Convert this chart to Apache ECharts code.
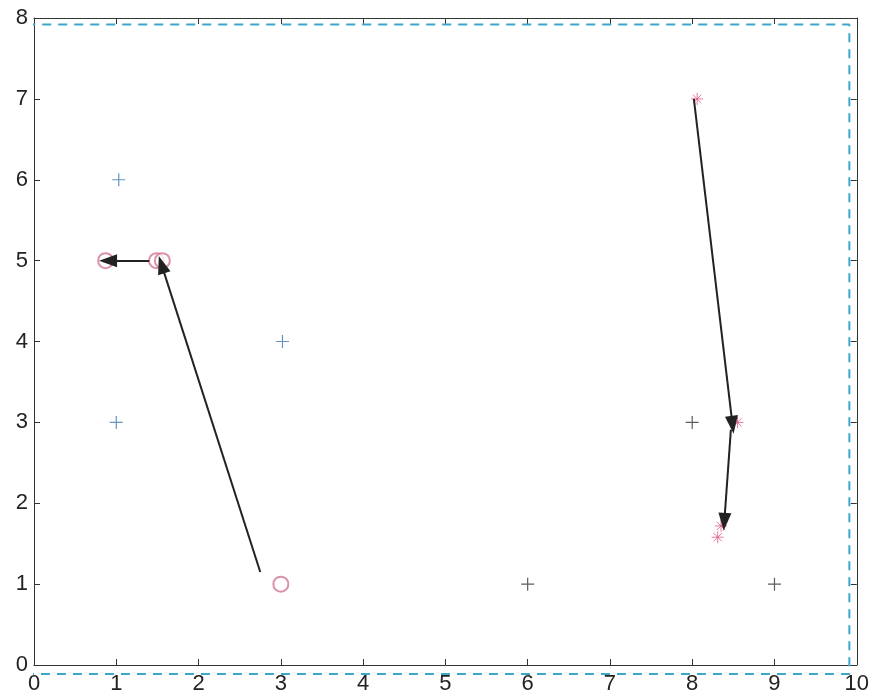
<!DOCTYPE html>
<html><head><meta charset="utf-8">
<script src="https://cdn.jsdelivr.net/npm/echarts@6/dist/echarts.min.js"></script>
<style>html,body{margin:0;padding:0;background:#fff}#c{width:872px;height:700px}</style>
</head><body><div id="c"></div>
<script>
const xTicks = [0,1,2,3,4,5,6,7,8,9,10];
const yTicks = [0,1,2,3,4,5,6,7,8];
const bluePlus = [[1.03,6],[1.0,3],[3.02,4]];
const blackPlus = [[6,1],[8,3],[9,1]];
const redCircles = [[0.87,5],[1.49,5],[1.56,5],[3.0,1]];
const redStars = [[8.06,7],[8.55,3],[8.35,1.72],[8.31,1.58]];
const arrowFrom = [[2.75,1.15],[1.40,5.0],[8.02,7.0],[8.47,2.91]];
const arrowTo = [[1.55,4.95],[0.90,5.0],[8.49,2.97],[8.39,1.77]];
const frameCorners = [[-0.11,-0.11],[9.91,-0.11],[9.91,7.92],[-0.11,7.92],[-0.11,-0.11]];

const chart = echarts.init(document.getElementById('c'));
const font = 'Liberation Sans, Arial, sans-serif';
const axisLine = {show:true, onZero:false, lineStyle:{color:'#333', width:1}};
const plusPath = 'path://M0,-1L0,1M-1,0L1,0';
const starPath = 'path://M0,-1L0,1M-1,0L1,0M-0.7,-0.7L0.7,0.7M-0.7,0.7L0.7,-0.7';
chart.setOption({
  animation:false,
  backgroundColor:'#fff',
  grid:{left:34, right:15, top:18, bottom:35, containLabel:false},
  xAxis:[
    {type:'value', min:0, max:10, interval:1, position:'bottom', axisLine,
     axisTick:{inside:true, length:6, lineStyle:{color:'#333'}},
     axisLabel:{fontSize:22, fontFamily:font, color:'#222', margin:8,
       formatter:v=>xTicks.includes(v)?String(v):''},
     splitLine:{show:false}},
    {type:'value', min:0, max:10, interval:1, position:'top', axisLine,
     axisTick:{inside:true, length:6, lineStyle:{color:'#333'}},
     axisLabel:{show:false}, splitLine:{show:false}}
  ],
  yAxis:[
    {type:'value', min:0, max:8, interval:1, position:'left', axisLine,
     axisTick:{inside:true, length:6, lineStyle:{color:'#333'}},
     axisLabel:{fontSize:22, fontFamily:font, color:'#222', margin:6,
       formatter:v=>yTicks.includes(v)?String(v):''},
     splitLine:{show:false}},
    {type:'value', min:0, max:8, interval:1, position:'right', axisLine,
     axisTick:{inside:true, length:6, lineStyle:{color:'#333'}},
     axisLabel:{show:false}, splitLine:{show:false}}
  ],
  series:[
    {type:'line', data:frameCorners, symbol:'none', clip:false, z:1,
     lineStyle:{color:'#3ea6cc', width:2, type:[9,7]}},
    {type:'scatter', data:[], xAxisIndex:1, yAxisIndex:1},
    {type:'scatter', data:bluePlus, symbol:plusPath, symbolSize:13,
     itemStyle:{color:'transparent', borderColor:'#3f78b5', borderWidth:1.2}},
    {type:'scatter', data:blackPlus, symbol:plusPath, symbolSize:13,
     itemStyle:{color:'transparent', borderColor:'#333', borderWidth:1.2}},
    {type:'scatter', data:redCircles, symbol:'emptyCircle', symbolSize:15,
     itemStyle:{color:'#d27892', borderColor:'#d27892', borderWidth:1}},
    {type:'scatter', data:redStars, symbol:starPath, symbolSize:12,
     itemStyle:{color:'transparent', borderColor:'#e0588c', borderWidth:1}},
    {type:'line', data:[], symbol:'none',
     markLine:{silent:true, symbol:['none','triangle'], symbolSize:[13,18],
       label:{show:false}, lineStyle:{color:'#222', width:2, type:'solid'},
       itemStyle:{color:'#333'},
       data:arrowFrom.map((f,i)=>[{coord:f},{coord:arrowTo[i]}])}}
  ]
});
</script></body></html>
